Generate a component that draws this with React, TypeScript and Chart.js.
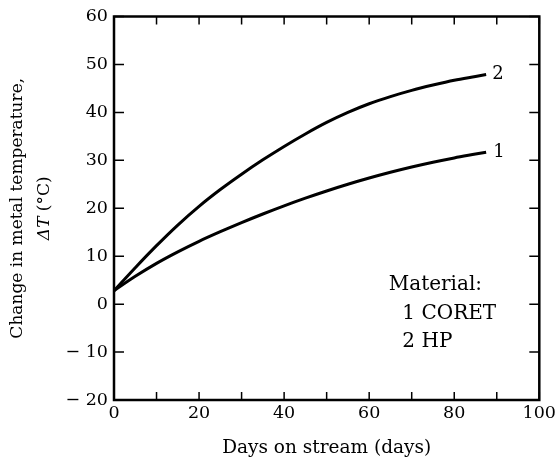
import React, { useEffect, useRef } from "react";
import { Chart, registerables } from "chart.js";

Chart.register(...registerables);

// Days on stream
const days = [0, 5, 10, 15, 20, 25, 30, 35, 40, 45, 50, 55, 60, 65, 70, 75, 80, 85, 87.5];
// Material 1: CORET
const coret = [2.8, 5.8, 8.5, 10.9, 13.1, 15.1, 17.0, 18.8, 20.5, 22.1, 23.6, 25.0, 26.3, 27.5, 28.6, 29.6, 30.5, 31.3, 31.7];
// Material 2: HP
const hp = [2.8, 7.6, 12.2, 16.5, 20.4, 23.9, 27.1, 30.1, 32.9, 35.5, 37.9, 40.0, 41.8, 43.3, 44.6, 45.7, 46.7, 47.5, 47.9];

const curveLabels = ["1", "2"];
const legendTitle = "Material:";
const legendItems = ["1 CORET", "2 HP"];
const xTitle = "Days on stream (days)";
const yTitleLine1 = "Change in metal temperature,";

const FONT = "'DejaVu Serif', serif";

const decorPlugin = {
  id: "decor",
  afterDraw(chart: any) {
    const { ctx, chartArea } = chart;
    const xs = chart.scales.x;
    const ys = chart.scales.y;
    const { left, right, top, bottom } = chartArea;
    ctx.save();
    ctx.strokeStyle = "#000";
    ctx.fillStyle = "#000";
    // frame
    ctx.lineWidth = 2.5;
    ctx.strokeRect(left, top, right - left, bottom - top);
    // inward ticks
    ctx.lineWidth = 1.5;
    ctx.beginPath();
    for (let v = -20; v <= 60; v += 10) {
      const p = ys.getPixelForValue(v);
      ctx.moveTo(left, p);
      ctx.lineTo(left + 10, p);
      ctx.moveTo(right, p);
      ctx.lineTo(right - 10, p);
    }
    for (let v = 0; v <= 100; v += 10) {
      const p = xs.getPixelForValue(v);
      ctx.moveTo(p, bottom);
      ctx.lineTo(p, bottom - 8);
      ctx.moveTo(p, top);
      ctx.lineTo(p, top + 8);
    }
    ctx.stroke();

    // curve end labels
    ctx.font = `18px ${FONT}`;
    ctx.textAlign = "left";
    ctx.textBaseline = "middle";
    const lastX = days[days.length - 1];
    ctx.fillText(curveLabels[0], xs.getPixelForValue(lastX) + 7, ys.getPixelForValue(coret[coret.length - 1]));
    ctx.fillText(curveLabels[1], xs.getPixelForValue(lastX) + 6, ys.getPixelForValue(hp[hp.length - 1]));

    // legend text
    ctx.font = `20px ${FONT}`;
    ctx.textBaseline = "alphabetic";
    ctx.fillText(legendTitle, xs.getPixelForValue(64.6), ys.getPixelForValue(2.9));
    ctx.fillText(legendItems[0], xs.getPixelForValue(67.8), ys.getPixelForValue(-3.2));
    ctx.fillText(legendItems[1], xs.getPixelForValue(67.8), ys.getPixelForValue(-9.0));

    // y title
    ctx.font = `17px ${FONT}`;
    ctx.textBaseline = "middle";
    ctx.save();
    const cy = (top + bottom) / 2;
    ctx.translate(18, cy);
    ctx.rotate(-Math.PI / 2);
    ctx.textAlign = "center";
    ctx.fillText(yTitleLine1, 0, 0);
    ctx.restore();

    ctx.save();
    ctx.translate(45, cy);
    ctx.rotate(-Math.PI / 2);
    const italicFont = `italic 17px ${FONT}`;
    const normalFont = `17px ${FONT}`;
    const parts = [
      { t: "Δ", f: italicFont },
      { t: "T", f: italicFont },
      { t: " (°C)", f: normalFont },
    ];
    let total = 0;
    parts.forEach((p) => {
      ctx.font = p.f;
      total += ctx.measureText(p.t).width;
    });
    let x = -total / 2;
    ctx.textAlign = "left";
    parts.forEach((p) => {
      ctx.font = p.f;
      ctx.fillText(p.t, x, 0);
      x += ctx.measureText(p.t).width;
    });
    ctx.restore();

    ctx.restore();
  },
};

export default function App() {
  const ref = useRef<HTMLCanvasElement | null>(null);
  useEffect(() => {
    if (!ref.current) return;
    const chart = new Chart(ref.current, {
      type: "line",
      data: {
        datasets: [
          {
            label: "1 CORET",
            data: days.map((d, i) => ({ x: d, y: coret[i] })),
            borderColor: "#000",
            borderWidth: 3,
            pointRadius: 0,
            cubicInterpolationMode: "monotone",
            fill: false,
          },
          {
            label: "2 HP",
            data: days.map((d, i) => ({ x: d, y: hp[i] })),
            borderColor: "#000",
            borderWidth: 3,
            pointRadius: 0,
            cubicInterpolationMode: "monotone",
            fill: false,
          },
        ],
      },
      options: {
        animation: false,
        responsive: false,
        layout: { padding: { left: 0, right: 16, top: 15, bottom: 0 } },
        plugins: {
          legend: { display: false },
          tooltip: { enabled: false },
        },
        scales: {
          x: {
            type: "linear",
            min: 0,
            max: 100,
            grid: { display: false, drawTicks: false },
            border: { display: false },
            ticks: {
              stepSize: 20,
              color: "#000",
              font: { family: FONT, size: 17.5 },
              padding: 3,
              maxRotation: 0,
            },
            title: {
              display: true,
              text: xTitle,
              color: "#000",
              font: { family: FONT, size: 18.5 },
              padding: { top: 2, bottom: 0 },
            },
            afterFit: (s: any) => {
              s.height = 59;
            },
          },
          y: {
            type: "linear",
            min: -20,
            max: 60,
            grid: { display: false, drawTicks: false },
            border: { display: false },
            ticks: {
              stepSize: 10,
              color: "#000",
              font: { family: FONT, size: 17.5 },
              padding: 6,
              callback: (v: any) => (Number(v) < 0 ? "− " + Math.abs(Number(v)) : String(v)),
            },
            afterFit: (s: any) => {
              s.width = 114;
            },
          },
        },
      },
      plugins: [decorPlugin],
    });
    return () => chart.destroy();
  }, []);
  return (
    <div style={{ position: "fixed", left: 0, top: 0, width: 559, height: 459, background: "#fff" }}>
      <canvas ref={ref} width={559} height={459} />
    </div>
  );
}
